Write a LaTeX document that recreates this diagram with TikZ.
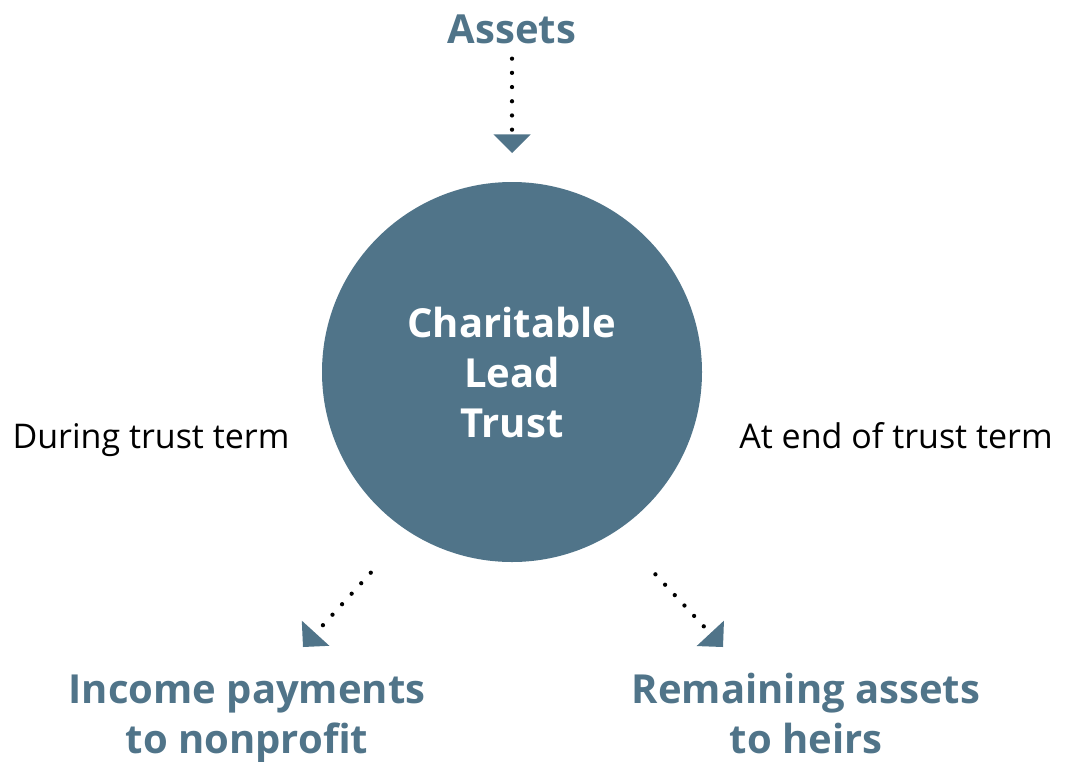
\documentclass[tikz,border=0pt]{standalone}
\usepackage{fontspec}
\setmainfont{Open Sans}
\usetikzlibrary{arrows.meta}
\definecolor{trustblue}{RGB}{80,116,137}

\begin{document}
\begin{tikzpicture}[x=0.75pt, y=-0.75pt,
	title/.style={text=trustblue, font=\fontsize{30}{37.5}\selectfont\bfseries, align=center, inner sep=0pt, anchor=base},
	phase/.style={font=\fontsize{25.5}{30}\selectfont, inner sep=0pt, anchor=base},
	flow/.style={line width=3.2pt, line cap=round, dash pattern=on 0pt off 10.65pt,
		-{Triangle[length=14pt, width=28pt, line width=0pt, color=trustblue]}}]
 	 % Fix the size of the page
 	 \useasboundingbox (0,0) rectangle (1070,761);
 	 
 	 % The trust in the middle
 	 \node[circle, fill=trustblue, minimum size=285pt, inner sep=0pt, outer sep=0pt,
 	 	text=white, font=\fontsize{30}{37.5}\selectfont\bfseries, align=center] (trust) at (512,372) {Charitable\\Lead\\Trust};
 	 
 	 \node[title] (assets) at (512,43) {Assets};
 	 \node[title] (income) at (247,753) {Income payments\\to nonprofit};
 	 \node[title] (remain) at (806,753) {Remaining assets\\to heirs};
 	 
 	 \node[phase] (during) at (151,448) {During trust term};
 	 \node[phase] (atend) at (896,448) {At end of trust term};
 	 
 	 % Where the arrow tips end
 	 \coordinate (incometip) at (303,647);
 	 \coordinate (remaintip) at (723,647);
  
 	 % Draw the dotted arrows
 	 \draw[flow, shorten <=11.25pt, shorten >=21.75pt] (assets.south) -- (trust.north);
 	 \draw[flow, shorten <=42pt] (trust.-123) -- (incometip);
 	 \draw[flow, shorten <=44pt] (trust.-57) -- (remaintip);
\end{tikzpicture}
\end{document}
